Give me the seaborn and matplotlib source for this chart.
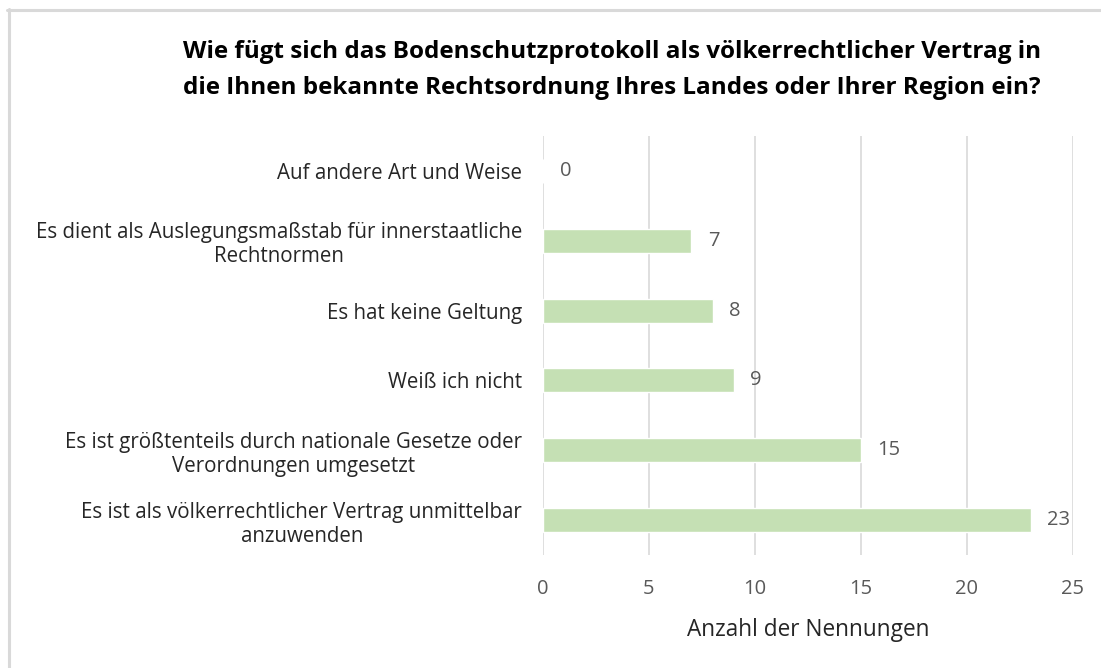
import pandas as pd
import matplotlib.pyplot as plt
import seaborn as sns
from matplotlib.lines import Line2D

# Data (top to bottom as shown)
categories = [
    "Auf andere Art und Weise",
    "Es dient als Auslegungsmaßstab für innerstaatliche\nRechtnormen",
    "Es hat keine Geltung",
    "Weiß ich nicht",
    "Es ist größtenteils durch nationale Gesetze oder\nVerordnungen umgesetzt",
    "Es ist als völkerrechtlicher Vertrag unmittelbar\nanzuwenden",
]
counts = [0, 7, 8, 9, 15, 23]
x_ticks = [0, 5, 10, 15, 20, 25]

title = ("Wie fügt sich das Bodenschutzprotokoll als völkerrechtlicher Vertrag in\n"
         "die Ihnen bekannte Rechtsordnung Ihres Landes oder Ihrer Region ein?")
x_label = "Anzahl der Nennungen"

BAR_COLOR = "#C5E0B4"
GRID_COLOR = "#D9D9D9"
TEXT_COLOR = "#262626"
VALUE_COLOR = "#595959"


def plot_data():
    sns.set_theme(style="white")
    plt.rcParams["font.family"] = ["Open Sans", "DejaVu Sans"]

    W, H = 1101, 668
    fig = plt.figure(figsize=(W / 100, H / 100), dpi=100)
    ax = fig.add_axes([543 / W, 1 - 555 / H, 530 / W, 419 / H])

    df = pd.DataFrame({"Kategorie": categories, "Anzahl": counts})
    sns.barplot(data=df, x="Anzahl", y="Kategorie", orient="h",
                color=BAR_COLOR, saturation=1, width=0.345, ax=ax)

    ax.set_xlim(0, 25)
    ax.set_xticks(x_ticks)
    ax.grid(axis="x", color=GRID_COLOR, linewidth=1.2)
    ax.set_axisbelow(True)
    for side in ["top", "right", "bottom", "left"]:
        ax.spines[side].set_visible(False)

    ax.tick_params(axis="x", length=0, pad=17, labelsize=14.5, labelcolor=VALUE_COLOR)
    ax.tick_params(axis="y", length=0, pad=15, labelsize=14.8, labelcolor=TEXT_COLOR)
    for lbl in ax.get_yticklabels():
        lbl.set_multialignment("center")

    ax.set_ylabel("")
    ax.set_xlabel(x_label, fontsize=16.3, color=TEXT_COLOR, labelpad=14)

    ax.bar_label(ax.containers[0], padding=12, fontsize=14.5, color=VALUE_COLOR)

    fig.text(612 / W, 1 - 70 / H, title, ha="center", va="center",
             fontsize=17.5, fontweight="bold", color="#000000", linespacing=1.65)

    # cropped frame: only the top and left edges are visible
    fig.add_artist(Line2D([7 / W, 1], [1 - 9.5 / H, 1 - 9.5 / H],
                          transform=fig.transFigure, color="#D9D9D9", linewidth=2.2))
    fig.add_artist(Line2D([8.5 / W, 8.5 / W], [0, 1 - 8.5 / H],
                          transform=fig.transFigure, color="#D9D9D9", linewidth=2.2))

    plt.savefig("out.png", dpi=100)


def main():
    plot_data()


if __name__ == "__main__":
    main()
